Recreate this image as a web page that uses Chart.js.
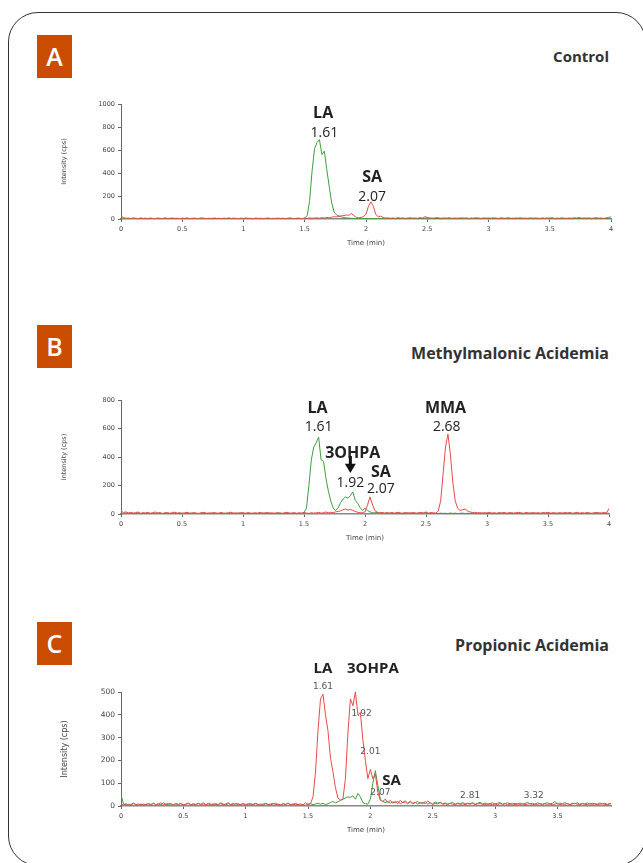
<!DOCTYPE html>
<html>
<head>
<meta charset="utf-8">
<script src="https://cdn.jsdelivr.net/npm/chart.js@4.4.1/dist/chart.umd.min.js"></script>
<style>
  body { margin: 0; background: #fff; width: 643px; height: 863px; overflow: hidden; position: relative; font-family: "Open Sans", sans-serif; }
  .card { position: absolute; left: 8px; top: 12px; width: 638px; height: 854px; border: 1px solid #333; border-radius: 30px; box-sizing: border-box; }
  .tag { position: absolute; left: 37px; width: 35px; height: 43px; background: #c94c00; color: #fff; font-size: 25px; font-weight: 600; line-height: 43px; text-align: center; }
  .ttl { position: absolute; right: 34px; font-weight: 700; font-size: 15px; color: #333; line-height: 20px; }
  canvas { position: absolute; }
</style>
</head>
<body>
<div class="card"></div>
<div class="tag" style="top:35px">A</div>
<div class="ttl" style="top:46px">Control</div>
<div class="tag" style="top:325px">B</div>
<div class="ttl" style="top:343px;font-size:16px">Methylmalonic Acidemia</div>
<div class="tag" style="top:622px">C</div>
<div class="ttl" style="top:635px;font-size:16px">Propionic Acidemia</div>

<canvas id="chartA" width="580" height="157" style="left:40px;top:92px"></canvas>
<canvas id="chartB" width="578" height="156" style="left:40px;top:388px"></canvas>
<canvas id="chartC" width="580" height="186" style="left:40px;top:650px"></canvas>

<script>
// sampling grid: one point every 0.02 min
var sampleStep = 0.02;
var times = [];
for (var i = 0; i <= 200; i++) times.push(+(i * sampleStep).toFixed(2));

var xTicks = [0, 0.5, 1, 1.5, 2, 2.5, 3, 3.5, 4];
var yTicksA = [0, 200, 400, 600, 800, 1000];
var yTicksB = [0, 200, 400, 600, 800];
var yTicksC = [0, 100, 200, 300, 400, 500];

// A - Control
var controlGreen = [
  8,4,2,5,3,1,4,2,6,3,  2,5,3,1,4,6,2,3,5,2,  4,2,6,3,1,5,2,4,3,2,  5,3,2,4,6,2,3,1,4,2,
  3,5,2,4,1,3,6,2,4,3,  2,4,6,3,2,5,1,3,4,2,  5,2,3,6,2,4,3,1,5,3,  2,4,3,5,2,8,30,160,420,610,
  665,690,560,590,430,280,140,60,35,25,  18,12,10,8,6,5,4,6,3,5,  4,3,6,2,5,3,4,2,5,3,  2,5,3,6,2,4,1,3,5,2,
  4,2,5,3,6,8,3,2,4,5,  3,6,2,4,3,5,2,6,3,4,  5,2,4,3,6,2,5,3,2,4,  3,5,2,6,4,2,3,5,2,4,
  6,3,2,4,5,3,6,2,4,3,  2,4,5,3,2,6,3,4,2,5,  4,3,6,2,5,3,2,4,6,3,  5,2,4,3,6,2,5,3,4,2,
  4
];
var controlRed = [
  25,12,6,8,4,10,6,3,9,5,  7,4,9,5,3,8,6,4,10,5,  6,9,4,7,3,8,5,10,4,6,  8,4,6,10,5,3,7,4,9,5,
  6,3,8,5,10,4,7,5,3,8,  5,9,4,6,3,8,5,7,4,6,  9,4,6,3,8,5,7,4,6,10,  5,3,8,6,4,7,5,9,6,8,
  10,6,12,8,14,10,16,20,18,24,  28,30,35,32,48,30,15,10,14,22,  40,110,150,110,40,20,25,12,8,10,  6,9,5,12,7,10,6,8,11,7,
  9,6,12,8,20,14,10,7,9,12,  8,6,10,7,12,5,9,6,8,11,  7,10,5,9,6,12,8,5,10,7,  9,6,11,7,5,10,8,6,12,7,
  5,9,7,11,6,8,5,10,7,9,  8,5,10,6,9,7,12,5,8,6,  10,7,5,9,6,11,8,14,6,9,  7,10,6,8,12,7,9,5,10,14,
  18
];

// B - Methylmalonic Acidemia
var mmaGreen = [
  5,3,7,2,6,4,3,8,2,5,  4,6,2,5,3,7,4,2,6,3,  3,5,8,2,4,6,3,5,2,7,  6,2,4,7,3,5,2,6,4,3,
  2,5,3,6,4,2,7,3,5,4,  8,3,5,2,6,4,3,5,7,2,  4,6,3,5,2,7,4,3,6,5,  3,5,2,6,4,10,40,200,380,470,
  500,540,380,370,250,160,90,40,25,45,  80,105,120,110,130,155,95,75,45,25,  40,25,15,10,8,12,6,9,5,7,  4,6,3,8,5,3,6,4,7,3,
  5,3,7,4,6,15,5,3,6,4,  3,6,4,5,3,7,4,6,3,5,  6,3,5,4,7,3,5,2,6,4,  4,7,3,5,2,6,4,7,3,5,
  5,3,6,4,7,3,5,4,6,3,  3,5,4,7,3,6,2,5,4,6,  6,4,3,5,7,3,6,4,3,5,  4,6,5,3,6,4,7,3,5,4,
  6
];
var mmaRed = [
  22,10,15,8,12,6,10,14,5,9,  7,12,5,9,14,6,10,4,8,11,  5,9,13,6,10,4,8,12,7,5,  10,6,4,9,12,5,8,6,11,7,
  6,11,7,4,9,13,5,8,6,10,  8,5,10,7,4,9,6,12,5,8,  11,6,8,5,10,7,4,9,12,6,  7,10,5,8,6,11,7,4,9,6,
  8,12,6,10,14,8,12,10,15,18,  22,30,35,28,32,25,18,12,8,10,  15,60,120,70,25,12,8,10,6,9,  7,11,6,9,12,5,8,10,6,9,
  10,6,8,12,7,9,5,11,8,6,  20,90,280,470,560,420,220,90,40,25,  30,35,22,15,10,12,8,10,6,9,  8,12,6,9,5,10,7,11,6,8,
  10,6,9,12,7,5,10,8,6,11,  7,9,5,10,8,12,6,9,7,5,  9,6,11,7,10,5,8,12,6,9,  6,10,7,5,9,11,6,8,10,7,
  40
];

// C - Propionic Acidemia
var propGreen = [
  50,10,5,8,4,12,6,3,9,5,  7,10,4,12,6,9,5,14,8,6,  10,5,9,6,12,4,8,11,6,9,  5,12,7,15,6,9,4,10,7,5,
  14,8,5,10,6,12,4,9,7,11,  6,10,5,8,12,6,9,4,10,7,  5,9,12,6,4,10,7,13,5,8,  11,6,9,5,14,8,10,6,9,12,
  8,12,6,10,15,20,14,18,25,30,  35,40,38,45,30,55,40,15,10,8,  30,100,155,90,30,20,15,20,12,18,  14,20,10,16,22,12,18,9,15,20,
  12,16,10,22,14,9,18,12,16,10,  14,9,12,16,8,13,10,15,9,12,  10,14,8,12,16,9,13,7,11,14,  9,12,15,8,11,14,10,7,12,9,
  13,8,11,16,9,12,7,14,10,8,  11,14,9,12,20,8,13,10,15,9,  7,12,10,14,8,11,9,13,8,12,  10,8,13,9,12,7,11,9,10,8,
  9
];
var propRed = [
  8,5,10,4,7,12,6,9,5,8,  6,10,7,12,5,9,14,6,8,11,  9,5,12,7,10,6,8,13,5,9,  7,11,6,9,5,12,8,6,10,7,
  10,6,9,14,7,5,11,8,6,9,  5,8,11,6,10,7,4,9,12,6,  9,12,6,8,5,10,7,11,6,8,  5,8,4,6,3,7,10,40,150,330,
  470,490,400,330,210,150,80,35,25,30,  120,320,470,440,500,400,410,290,200,120,  160,120,140,60,25,20,30,15,25,12,  20,10,25,14,18,9,22,12,16,8,
  15,10,20,8,14,6,12,9,15,7,  10,6,12,8,5,11,7,9,6,10,  8,12,6,9,11,7,5,10,8,6,  9,5,11,7,10,6,8,12,5,9,
  7,10,6,8,11,5,9,7,10,6,  10,7,9,5,8,12,6,9,7,11,  6,9,12,7,5,10,8,6,11,7,  9,6,8,10,7,5,9,11,6,8,
  7
];

var BOLD = '700 16px "Open Sans"';
var REG = '14px "Open Sans"';
var SMALL = '9px "DejaVu Sans"';

var notesA = [
  { text: 'LA', x: 1.65, y: 922, font: BOLD },
  { text: '1.61', x: 1.66, y: 748, font: REG },
  { text: 'SA', x: 2.05, y: 365, font: BOLD },
  { text: '2.07', x: 2.05, y: 191, font: REG }
];
var notesB = [
  { text: 'LA', x: 1.61, y: 744, font: BOLD },
  { text: '1.61', x: 1.62, y: 610, font: REG },
  { text: '3OHPA', x: 1.90, y: 428, font: BOLD },
  { arrow: true, x: 1.88, y: 407, y2: 288 },
  { text: '1.92', x: 1.88, y: 218, font: REG },
  { text: 'SA', x: 2.13, y: 295, font: BOLD },
  { text: '2.07', x: 2.13, y: 175, font: REG },
  { text: 'MMA', x: 2.66, y: 744, font: BOLD },
  { text: '2.68', x: 2.67, y: 610, font: REG }
];
var notesC = [
  { text: 'LA', x: 1.62, y: 601, font: '700 15px "Open Sans"' },
  { text: '1.61', x: 1.62, y: 522, font: SMALL, color: '#555' },
  { text: '3OHPA', x: 2.02, y: 601, font: '700 15px "Open Sans"' },
  { text: '1.92', x: 1.93, y: 404, font: SMALL, color: '#555' },
  { text: '2.01', x: 2.0, y: 237, font: SMALL, color: '#555' },
  { text: 'SA', x: 2.17, y: 110, font: '700 15px "Open Sans"' },
  { text: '2.07', x: 2.08, y: 57, font: SMALL, color: '#555' },
  { text: '2.81', x: 2.80, y: 44, font: SMALL, color: '#555' },
  { text: '3.32', x: 3.31, y: 44, font: SMALL, color: '#555' }
];

function notesPlugin(items) {
  return {
    id: 'notes',
    afterDatasetsDraw: function (chart) {
      var ctx = chart.ctx, sx = chart.scales.x, sy = chart.scales.y;
      ctx.save();
      items.forEach(function (n) {
        var px = sx.getPixelForValue(n.x), py = sy.getPixelForValue(n.y);
        if (n.arrow) {
          var py2 = sy.getPixelForValue(n.y2);
          ctx.fillStyle = '#111';
          ctx.fillRect(px - 1.5, py, 3, (py2 - py) * 0.55);
          ctx.beginPath();
          ctx.moveTo(px - 5.5, py + (py2 - py) * 0.45);
          ctx.lineTo(px + 5.5, py + (py2 - py) * 0.45);
          ctx.lineTo(px, py2);
          ctx.closePath();
          ctx.fill();
          return;
        }
        ctx.font = n.font;
        ctx.fillStyle = n.color || '#222';
        ctx.textAlign = 'center';
        ctx.textBaseline = 'middle';
        ctx.fillText(n.text, px, py);
      });
      ctx.restore();
    }
  };
}

function makeChart(id, green, red, xMax, yTicks, notes, topPad, yFont) {
  var pts = function (arr) { return arr.map(function (v, i) { return { x: times[i], y: v }; }); };
  var tickFont = { family: 'DejaVu Sans', size: 6.5 };
  return new Chart(document.getElementById(id), {
    type: 'line',
    data: {
      datasets: [
        { label: 'red', data: pts(red), borderColor: '#ee4848', borderWidth: 1, pointRadius: 0, tension: 0 },
        { label: 'green', data: pts(green), borderColor: '#3f9e3f', borderWidth: 1, pointRadius: 0, tension: 0 }
      ]
    },
    options: {
      responsive: false,
      animation: false,
      layout: { padding: { left: 20, top: topPad, right: 9, bottom: 0 } },
      plugins: { legend: { display: false }, tooltip: { enabled: false } },
      scales: {
        x: {
          type: 'linear', min: 0, max: xMax,
          afterBuildTicks: function (s) { s.ticks = xTicks.filter(function (v) { return v <= xMax; }).map(function (v) { return { value: v }; }); },
          ticks: { callback: function (v) { return String(v); }, font: tickFont, color: '#444', padding: 3, maxRotation: 0, autoSkip: false },
          grid: { display: true, drawOnChartArea: false, tickLength: 3, color: '#666' },
          border: { color: '#888', width: 1.5 },
          title: { display: true, text: 'Time (min)', font: { family: 'DejaVu Sans', size: 7 }, color: '#444', padding: { top: 0, bottom: 2 } },
          afterFit: function (s) { s.height = 30; }
        },
        y: {
          min: 0, max: yTicks[yTicks.length - 1],
          afterBuildTicks: function (s) { s.ticks = yTicks.map(function (v) { return { value: v }; }); },
          ticks: { callback: function (v) { return String(v); }, font: yFont || tickFont, color: '#444', padding: 3 },
          grid: { display: true, drawOnChartArea: false, tickLength: 3, color: '#666' },
          border: { color: '#666', width: 1 },
          title: { display: true, text: 'Intensity (cps)', font: { family: 'DejaVu Sans', size: yFont ? 8 : 6.5 }, color: '#444', padding: { top: 0, bottom: 0 } },
          afterFit: function (s) { s.width = 61; }
        }
      }
    },
    plugins: [notesPlugin(notes)]
  });
}

makeChart('chartA', controlGreen, controlRed, 4, yTicksA, notesA, 12);
makeChart('chartB', mmaGreen, mmaRed, 4, yTicksB, notesB, 12);
makeChart('chartC', propGreen, propRed, 3.93, yTicksC, notesC, 42, { family: 'DejaVu Sans', size: 7.5 });
</script>
</body>
</html>
